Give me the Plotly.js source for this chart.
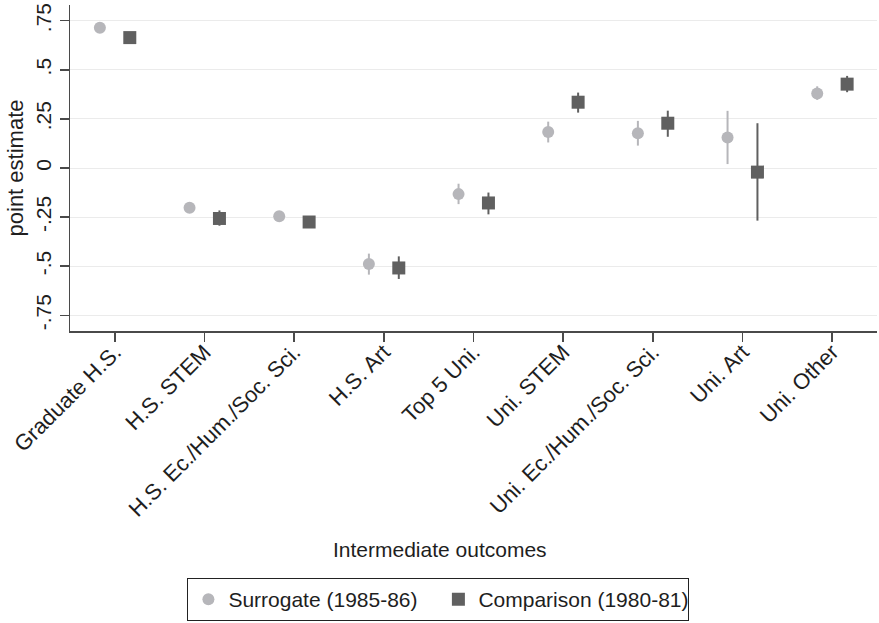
<!DOCTYPE html>
<html><head><meta charset="utf-8">
<script src="https://cdn.plot.ly/plotly-3.0.1.min.js"></script>
<style>html,body{margin:0;padding:0;background:#fff}#chart{width:879px;height:623px}</style>
</head><body><div id="chart"></div>
<script>
const categories = ['Graduate H.S.', 'H.S. STEM', 'H.S. Ec./Hum./Soc. Sci.', 'H.S. Art', 'Top 5 Uni.', 'Uni. STEM', 'Uni. Ec./Hum./Soc. Sci.', 'Uni. Art', 'Uni. Other'];
const surrogateEst = [0.714, -0.202, -0.246, -0.489, -0.133, 0.183, 0.177, 0.155, 0.379];
const surrogateLo  = [0.704, -0.227, -0.258, -0.543, -0.184, 0.130, 0.114, 0.020, 0.347];
const surrogateHi  = [0.724, -0.177, -0.234, -0.436, -0.080, 0.236, 0.240, 0.291, 0.416];
const comparisonEst = [0.664, -0.257, -0.275, -0.509, -0.178, 0.335, 0.228, -0.021, 0.427];
const comparisonLo  = [0.652, -0.294, -0.292, -0.565, -0.236, 0.282, 0.159, -0.268, 0.386];
const comparisonHi  = [0.676, -0.216, -0.258, -0.450, -0.125, 0.384, 0.292, 0.228, 0.469];
const yTickVals = [-0.75, -0.5, -0.25, 0, 0.25, 0.5, 0.75];
const yTickText = ['-.75', '-.5', '-.25', '0', '.25', '.5', '.75'];
const seriesNames = ['Surrogate (1985-86)', 'Comparison (1980-81)'];

const surrogateColor = '#b6b6ba';
const comparisonColor = '#606060';

function errs(est, lo, hi) {
  return {
    plus: hi.map((h, i) => h - est[i]),
    minus: est.map((e, i) => e - lo[i])
  };
}
const se = errs(surrogateEst, surrogateLo, surrogateHi);
const ce = errs(comparisonEst, comparisonLo, comparisonHi);

const traces = [
  {
    type: 'scatter', mode: 'markers', name: seriesNames[0],
    x: categories, y: surrogateEst,
    marker: {symbol: 'circle', size: 12, color: surrogateColor},
    error_y: {type: 'data', symmetric: false, array: se.plus, arrayminus: se.minus,
              color: surrogateColor, thickness: 2, width: 0}
  },
  {
    type: 'scatter', mode: 'markers', name: seriesNames[1],
    x: categories, y: comparisonEst,
    marker: {symbol: 'square', size: 13, color: comparisonColor},
    error_y: {type: 'data', symmetric: false, array: ce.plus, arrayminus: ce.minus,
              color: comparisonColor, thickness: 2, width: 0}
  }
];

const axisColor = '#4a4a4a';
const layout = {
  width: 879, height: 623,
  margin: {l: 70, r: 2, t: 5, b: 292},
  paper_bgcolor: '#ffffff', plot_bgcolor: '#ffffff',
  font: {family: 'Liberation Sans, Arial, sans-serif', size: 21, color: '#1e1e1e'},
  scattermode: 'group', scattergap: 0.333,
  showlegend: true,
  xaxis: {
    type: 'category', range: [-0.5, 8.5], tickangle: -45, tickfont: {size: 22},
    ticklabelstandoff: -11,
    showline: true, linecolor: axisColor, linewidth: 1.5,
    ticks: 'outside', ticklen: 9, tickcolor: axisColor, tickwidth: 1.5,
    showgrid: false, zeroline: false, automargin: false
  },
  yaxis: {
    range: [-0.83, 0.83], tickmode: 'array', tickvals: yTickVals, ticktext: yTickText,
    tickangle: -90,
    showline: true, linecolor: axisColor, linewidth: 1.5,
    ticks: 'outside', ticklen: 9, tickcolor: axisColor, tickwidth: 1.5,
    showgrid: true, gridcolor: '#ebebeb', gridwidth: 1, zeroline: false, automargin: false,
    title: {text: 'point estimate', font: {size: 22}, standoff: 2}
  },
  legend: {
    orientation: 'h', xref: 'paper', x: 0.4565, xanchor: 'center',
    yref: 'container', y: 0.0377, yanchor: 'middle',
    entrywidth: 205, entrywidthmode: 'pixels',
    bordercolor: '#222222', borderwidth: 1, font: {size: 21}
  },
  annotations: [{
    text: 'Intermediate outcomes', xref: 'paper', yref: 'paper',
    x: 0.4585, y: -0.669, xanchor: 'center', yanchor: 'middle',
    showarrow: false, font: {size: 21}
  }]
};

Plotly.newPlot('chart', traces, layout, {displayModeBar: false, staticPlot: true});
</script>
</body></html>
